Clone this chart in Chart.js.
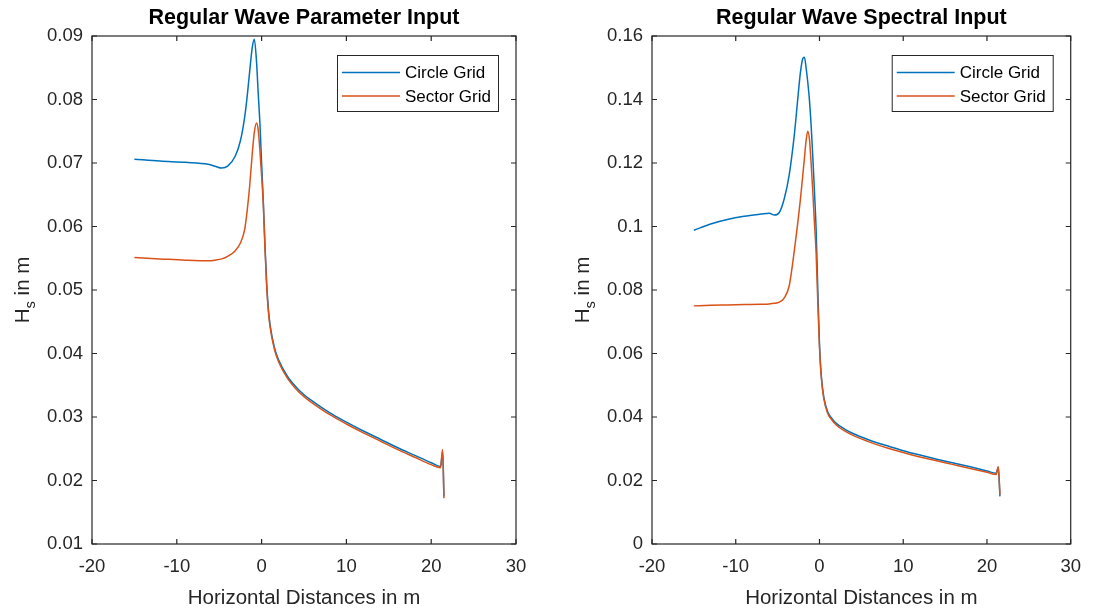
<!DOCTYPE html>
<html><head><meta charset="utf-8">
<script src="https://cdn.jsdelivr.net/npm/chart.js@4.4.1/dist/chart.umd.min.js"></script>
<style>
html,body{margin:0;padding:0;background:#fff;width:1093px;height:609px;overflow:hidden;}
canvas{position:absolute;top:0;}
#c1{left:0;} #c2{left:546px;}
</style></head><body>
<canvas id="c1" width="546" height="609"></canvas>
<canvas id="c2" width="547" height="609"></canvas>
<script>
// ---------- data ----------
const seriesLabels = ['Circle Grid', 'Sector Grid'];
const chartTitles = ['Regular Wave Parameter Input', 'Regular Wave Spectral Input'];
const xAxisTitle = 'Horizontal Distances in m';

const xLeft = [-15, -12, -9, -6.3, -5.5, -4.7, -4, -3.1, -2.5, -2, -1.7, -1.4, -1.1, -0.86, -0.6, -0.4, -0.2, 0, 0.2, 0.4, 0.6, 0.8, 1, 1.5, 2, 3, 4, 5, 6, 8, 10, 12, 14, 16, 18, 20, 21.1, 21.35, 21.5];
const circleLeft = [0.0706, 0.0703, 0.0701, 0.0698, 0.0695, 0.0692, 0.0695, 0.0711, 0.0735, 0.0772, 0.0805, 0.0845, 0.0882, 0.0895, 0.0860, 0.0810, 0.0763, 0.0700, 0.0640, 0.0570, 0.0510, 0.0470, 0.0445, 0.0410, 0.0390, 0.0365, 0.0348, 0.0335, 0.0325, 0.0307, 0.0292, 0.0278, 0.0265, 0.0252, 0.0240, 0.0228, 0.0222, 0.0246, 0.0175];
const sectorLeft = [0.0551, 0.0549, 0.0547, 0.0546, 0.0547, 0.0549, 0.0553, 0.0562, 0.0574, 0.0595, 0.0625, 0.0665, 0.0715, 0.0748, 0.0763, 0.0752, 0.0720, 0.0680, 0.0635, 0.0565, 0.0505, 0.0466, 0.0442, 0.0407, 0.0387, 0.0362, 0.0345, 0.0332, 0.0322, 0.0304, 0.0289, 0.0275, 0.0262, 0.0249, 0.0237, 0.0225, 0.0220, 0.0249, 0.0172];

const xRight = [-15, -13, -11, -9, -7, -6, -5.4, -4.8, -4.2, -3.6, -3, -2.6, -2.3, -2.0, -1.8, -1.6, -1.4, -1.2, -1.0, -0.8, -0.6, -0.4, -0.2, 0, 0.2, 0.5, 1, 1.5, 2, 3, 4, 5, 6, 8, 10, 12, 14, 16, 18, 20, 21.1, 21.35, 21.55];
const circleRight = [0.0988, 0.1008, 0.1022, 0.1032, 0.1039, 0.1042, 0.1036, 0.1044, 0.1088, 0.1165, 0.1290, 0.1400, 0.1480, 0.1528, 0.1533, 0.1500, 0.1455, 0.1398, 0.1320, 0.1220, 0.1110, 0.0990, 0.0800, 0.0630, 0.0535, 0.0465, 0.0415, 0.0395, 0.0380, 0.0362, 0.0348, 0.0337, 0.0327, 0.0310, 0.0294, 0.0280, 0.0267, 0.0255, 0.0243, 0.0230, 0.0223, 0.0242, 0.0150];
const sectorRight = [0.0750, 0.0752, 0.0753, 0.0754, 0.0755, 0.0756, 0.0758, 0.0762, 0.0775, 0.0815, 0.0925, 0.1010, 0.1080, 0.1160, 0.1215, 0.1270, 0.1300, 0.1275, 0.1200, 0.1110, 0.1010, 0.0915, 0.0760, 0.0620, 0.0530, 0.0460, 0.0410, 0.0390, 0.0375, 0.0356, 0.0342, 0.0331, 0.0321, 0.0303, 0.0288, 0.0274, 0.0262, 0.0250, 0.0238, 0.0226, 0.0219, 0.0243, 0.0155];

const xTickValues = [-20, -10, 0, 10, 20, 30];
const xTickLabels = ['-20', '-10', '0', '10', '20', '30'];
const yTickValuesLeft = [0.01, 0.02, 0.03, 0.04, 0.05, 0.06, 0.07, 0.08, 0.09];
const yTickLabelsLeft = ['0.01', '0.02', '0.03', '0.04', '0.05', '0.06', '0.07', '0.08', '0.09'];
const yTickValuesRight = [0, 0.02, 0.04, 0.06, 0.08, 0.1, 0.12, 0.14, 0.16];
const yTickLabelsRight = ['0', '0.02', '0.04', '0.06', '0.08', '0.1', '0.12', '0.14', '0.16'];

// ---------- styling ----------
const FONT = "'Liberation Sans', Arial, Helvetica, sans-serif";
const AXC = '#262626';
const COLORS = ['#0072BD', '#D95319'];

const matlabAxes = {
  id: 'matlabAxes',
  afterDatasetsDraw(chart) {
    const {ctx, chartArea: a, scales} = chart;
    ctx.save();
    ctx.strokeStyle = AXC;
    ctx.lineWidth = 1.2;
    ctx.strokeRect(a.left, a.top, a.right - a.left, a.bottom - a.top);
    const tl = 5;
    ctx.beginPath();
    scales.x.ticks.forEach(t => {
      const p = scales.x.getPixelForValue(t.value);
      ctx.moveTo(p, a.bottom); ctx.lineTo(p, a.bottom - tl);
      ctx.moveTo(p, a.top); ctx.lineTo(p, a.top + tl);
    });
    scales.y.ticks.forEach(t => {
      const p = scales.y.getPixelForValue(t.value);
      ctx.moveTo(a.left, p); ctx.lineTo(a.left + tl, p);
      ctx.moveTo(a.right, p); ctx.lineTo(a.right - tl, p);
    });
    ctx.stroke();

    // legend (inside, north-east)
    const bw = 161, bh = 56;
    const bx = a.right - 18 - bw, by = a.top + 19;
    ctx.fillStyle = '#fff';
    ctx.fillRect(bx, by, bw, bh);
    ctx.lineWidth = 1;
    ctx.strokeStyle = AXC;
    ctx.strokeRect(bx + 0.5, by + 0.5, bw, bh);
    ctx.font = '17px ' + FONT;
    ctx.textBaseline = 'middle';
    ctx.textAlign = 'left';
    chart.data.datasets.forEach((ds, i) => {
      const y = by + 17.5 + i * 23.5;
      ctx.strokeStyle = ds.borderColor;
      ctx.lineWidth = 1.5;
      ctx.beginPath(); ctx.moveTo(bx + 5, y); ctx.lineTo(bx + 63, y); ctx.stroke();
      ctx.fillStyle = '#000';
      ctx.fillText(ds.label, bx + 68, y + 1);
    });

    // y-axis title with subscript: H_s in m
    const size = 20.5;
    const X = a.left - 63, Y = (a.top + a.bottom) / 2;
    ctx.translate(X, Y);
    ctx.rotate(-Math.PI / 2);
    ctx.fillStyle = AXC;
    ctx.textBaseline = 'alphabetic';
    ctx.font = size + 'px ' + FONT;
    const w1 = ctx.measureText('H').width;
    const w3 = ctx.measureText(' in m').width;
    ctx.font = (size * 0.72) + 'px ' + FONT;
    const w2 = ctx.measureText('s').width;
    let sx = -(w1 + w2 + w3) / 2;
    ctx.font = size + 'px ' + FONT;
    ctx.fillText('H', sx, 0);
    ctx.font = (size * 0.72) + 'px ' + FONT;
    ctx.fillText('s', sx + w1, size * 0.3);
    ctx.font = size + 'px ' + FONT;
    ctx.fillText(' in m', sx + w1 + w2, 0);
    ctx.restore();
  }
};

function makeChart(id, title, xs, ys1, ys2, yMin, yMax, yVals, yLabels, yWidth, padRight) {
  const pts = (ys) => xs.map((x, i) => ({x: x, y: ys[i]}));
  return new Chart(document.getElementById(id), {
    type: 'line',
    data: {
      datasets: [
        {label: seriesLabels[0], data: pts(ys1), borderColor: COLORS[0], borderWidth: 1.5, pointRadius: 0, cubicInterpolationMode: 'monotone', fill: false, order: 1},
        {label: seriesLabels[1], data: pts(ys2), borderColor: COLORS[1], borderWidth: 1.5, pointRadius: 0, cubicInterpolationMode: 'monotone', fill: false, order: 0}
      ]
    },
    options: {
      responsive: false, animation: false, devicePixelRatio: 1,
      layout: {padding: {left: 0, right: padRight, top: 0, bottom: 0}},
      plugins: {
        legend: {display: false},
        tooltip: {enabled: false},
        title: {display: true, text: title, fullSize: false, color: '#000',
                font: {family: FONT, size: 21.5, weight: 'bold'}, padding: {top: 5, bottom: 5.2}}
      },
      scales: {
        x: {
          type: 'linear', min: -20, max: 30,
          afterBuildTicks: s => { s.ticks = xTickValues.map(v => ({value: v})); },
          afterFit: s => { s.height = 65; },
          grid: {display: false, drawTicks: false},
          border: {display: false},
          ticks: {font: {family: FONT, size: 18.5}, color: AXC, padding: 12, maxRotation: 0, autoSkip: false,
                  callback: (v, i) => xTickLabels[i]},
          title: {display: true, text: xAxisTitle, color: AXC, font: {family: FONT, size: 20.5}, padding: {top: 0, bottom: -2}}
        },
        y: {
          type: 'linear', min: yMin, max: yMax,
          afterBuildTicks: s => { s.ticks = yVals.map(v => ({value: v})); },
          afterFit: s => { s.width = yWidth; },
          grid: {display: false, drawTicks: false},
          border: {display: false},
          ticks: {font: {family: FONT, size: 18.5}, color: AXC, padding: 9, autoSkip: false,
                  callback: (v, i) => yLabels[i]}
        }
      }
    },
    plugins: [matlabAxes]
  });
}

makeChart('c1', chartTitles[0], xLeft, circleLeft, sectorLeft, 0.01, 0.09, yTickValuesLeft, yTickLabelsLeft, 92, 30);
makeChart('c2', chartTitles[1], xRight, circleRight, sectorRight, 0, 0.16, yTickValuesRight, yTickLabelsRight, 106, 16);
</script>
</body></html>
